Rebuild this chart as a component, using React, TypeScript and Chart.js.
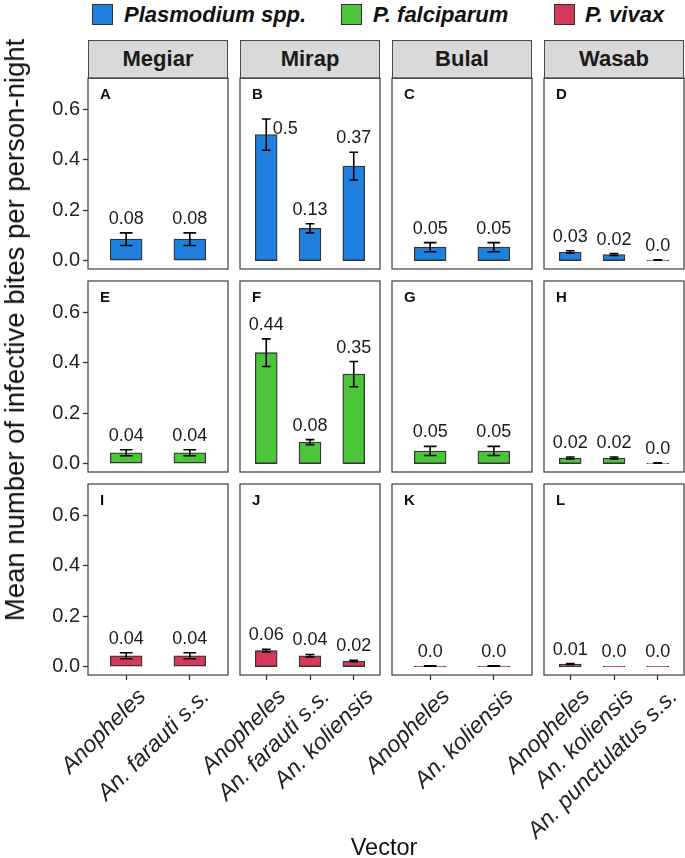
import React, { useEffect, useRef } from "react";
import { Chart, registerables } from "chart.js";

Chart.register(...registerables);

// ---------------- data ----------------
const villages = ["Megiar", "Mirap", "Bulal", "Wasab"];
const speciesNames = ["Plasmodium spp.", "P. falciparum", "P. vivax"];
const speciesColors = ["#1F80E0", "#4CC53B", "#D5395A"];
const panelLetters = [
  ["A", "B", "C", "D"],
  ["E", "F", "G", "H"],
  ["I", "J", "K", "L"],
];

const megiarVectors = ["Anopheles", "An. farauti s.s."];
const mirapVectors = ["Anopheles", "An. farauti s.s.", "An. koliensis"];
const bulalVectors = ["Anopheles", "An. koliensis"];
const wasabVectors = ["Anopheles", "An. koliensis", "An. punctulatus s.s."];
const vectorsByVillage = [megiarVectors, mirapVectors, bulalVectors, wasabVectors];

// Plasmodium spp. (per village)
const sppMean = [[0.085, 0.085], [0.5, 0.128, 0.375], [0.053, 0.053], [0.034, 0.024, 0.002]];
const sppErr = [[0.025, 0.025], [0.062, 0.018, 0.055], [0.018, 0.018], [0.005, 0.004, 0.001]];
const sppLabel = [["0.08", "0.08"], ["0.5", "0.13", "0.37"], ["0.05", "0.05"], ["0.03", "0.02", "0.0"]];

// P. falciparum
const pfMean = [[0.043, 0.043], [0.44, 0.085, 0.355], [0.05, 0.05], [0.022, 0.022, 0.002]];
const pfErr = [[0.012, 0.012], [0.055, 0.01, 0.05], [0.018, 0.018], [0.004, 0.004, 0.001]];
const pfLabel = [["0.04", "0.04"], ["0.44", "0.08", "0.35"], ["0.05", "0.05"], ["0.02", "0.02", "0.0"]];

// P. vivax
const pvMean = [[0.043, 0.043], [0.063, 0.043, 0.022], [0.002, 0.002], [0.01, 0.001, 0.001]];
const pvErr = [[0.012, 0.012], [0.005, 0.005, 0.003], [0.001, 0.001], [0.002, 0, 0]];
const pvLabel = [["0.04", "0.04"], ["0.06", "0.04", "0.02"], ["0.0", "0.0"], ["0.01", "0.0", "0.0"]];

const meansBySpecies = [sppMean, pfMean, pvMean];
const errsBySpecies = [sppErr, pfErr, pvErr];
const labelsBySpecies = [sppLabel, pfLabel, pvLabel];

const yTicks = [0, 0.2, 0.4, 0.6];
const yMin = -0.0335;
const yMax = 0.7245;

// ---------------- layout ----------------
const W = 685;
const H = 858;
const FONT = "'Liberation Sans', Arial, Helvetica, sans-serif";
const colLeft = [88, 240, 392, 544];
const panelW = 140;
const rowTop = [78, 281, 484];
const panelH = 191;
const stripTop = 39.5;
const stripH = 38.5;
const Y_AXIS_W = 60;
const X_AXIS_H = 170;
const BORDER = "#4a4a4a";

// special nudge for the label that sits beside its error bar in the reference
const labelNudges = [{ row: 0, col: 1, index: 0, dx: 19, dy: 24 }];

function makeBarExtras(row: number, col: number) {
  const means = meansBySpecies[row][col];
  const errs = errsBySpecies[row][col];
  const labels = labelsBySpecies[row][col];
  const vectors = vectorsByVillage[col];
  return {
    id: "barExtras",
    afterDatasetsDraw(chart: any) {
      const ctx = chart.ctx;
      const meta = chart.getDatasetMeta(0);
      const ys = chart.scales.y;
      ctx.save();
      meta.data.forEach((bar: any, i: number) => {
        const m = means[i];
        const e = errs[i];
        const x = bar.x;
        const cap = bar.width * 0.4;
        const yTop = ys.getPixelForValue(m + e);
        const yBot = ys.getPixelForValue(m - e);
        if (e > 0) {
          ctx.strokeStyle = "#000";
          ctx.lineWidth = 1.6;
          ctx.beginPath();
          ctx.moveTo(x, yTop);
          ctx.lineTo(x, yBot);
          ctx.moveTo(x - cap / 2, yTop);
          ctx.lineTo(x + cap / 2, yTop);
          ctx.moveTo(x - cap / 2, yBot);
          ctx.lineTo(x + cap / 2, yBot);
          ctx.stroke();
        }
        let lx = x;
        let ly = yTop - 9;
        labelNudges.forEach((n) => {
          if (n.row === row && n.col === col && n.index === i) {
            lx += n.dx;
            ly += n.dy;
          }
        });
        ctx.fillStyle = "#1a1a1a";
        ctx.font = `18px ${FONT}`;
        ctx.textAlign = "center";
        ctx.textBaseline = "alphabetic";
        ctx.fillText(labels[i], lx, ly);
      });
      ctx.restore();
    },
    afterDraw(chart: any) {
      const a = chart.chartArea;
      const ctx = chart.ctx;
      ctx.save();
      ctx.strokeStyle = BORDER;
      ctx.lineWidth = 1.3;
      ctx.strokeRect(a.left, a.top, a.right - a.left, a.bottom - a.top);
      // rotated category labels (ggplot style: top-right corner at the tick)
      if (row === 2) {
        const xs = chart.scales.x;
        ctx.fillStyle = "#222";
        ctx.font = `italic 23px ${FONT}`;
        ctx.textAlign = "right";
        ctx.textBaseline = "top";
        vectors.forEach((v, i) => {
          const px = xs.getPixelForValue(i + 1);
          ctx.save();
          ctx.translate(px + 8, a.bottom + 10);
          ctx.rotate(-Math.PI / 4);
          ctx.fillText(v, 0, 0);
          ctx.restore();
        });
      }
      ctx.restore();
    },
  };
}

function Panel({ row, col }: { row: number; col: number }) {
  const ref = useRef<HTMLCanvasElement>(null);
  useEffect(() => {
    const vectors = vectorsByVillage[col];
    const means = meansBySpecies[row][col];
    const n = vectors.length;
    const unitPx = panelW / (n + 0.2);
    const showY = col === 0;
    const showX = row === 2;
    const chart = new Chart(ref.current as HTMLCanvasElement, {
      type: "bar",
      data: {
        datasets: [
          {
            data: means.map((m, i) => ({ x: i + 1, y: m })),
            backgroundColor: speciesColors[row],
            borderColor: "#333333",
            borderWidth: 1.3,
            borderSkipped: false,
            barThickness: unitPx * 0.5,
          } as any,
        ],
      },
      options: {
        animation: false,
        responsive: false,
        devicePixelRatio: 1,
        events: [],
        layout: {
          padding: {
            left: colLeft[col] - (showY ? Y_AXIS_W : 0),
            top: rowTop[row],
            right: W - (colLeft[col] + panelW),
            bottom: H - (rowTop[row] + panelH) - (showX ? X_AXIS_H : 0),
          },
        },
        plugins: { legend: { display: false }, tooltip: { enabled: false } },
        scales: {
          x: {
            type: "linear",
            offset: false,
            bounds: "data",
            min: 0.4,
            max: n + 0.6,
            display: showX,
            afterBuildTicks: (s: any) => {
              s.ticks = vectors.map((_, i) => ({ value: i + 1 }));
            },
            afterFit: (s: any) => {
              s.height = showX ? X_AXIS_H : 0;
              s.paddingLeft = 0;
              s.paddingRight = 0;
            },
            grid: {
              display: true,
              offset: false,
              drawOnChartArea: false,
              drawTicks: true,
              tickLength: 5,
              tickColor: "#333",
              tickWidth: 1.3,
            },
            border: { display: false },
            ticks: {
              display: false,
              autoSkip: false,
              maxRotation: 0,
              callback: (v: any) => vectors[Math.round(Number(v)) - 1] ?? "",
            },
          } as any,
          y: {
            type: "linear",
            min: yMin,
            max: yMax,
            display: showY,
            afterBuildTicks: (s: any) => {
              s.ticks = yTicks.map((v) => ({ value: v }));
            },
            afterFit: (s: any) => {
              s.width = showY ? Y_AXIS_W : 0;
              s.paddingTop = 0;
              s.paddingBottom = 0;
            },
            grid: {
              display: true,
              drawOnChartArea: false,
              drawTicks: true,
              tickLength: 5,
              tickColor: "#333",
              tickWidth: 1.3,
            },
            border: { display: false },
            ticks: {
              padding: 3,
              color: "#222",
              font: { family: FONT, size: 20 },
              callback: (v: any) => Number(v).toFixed(1),
            },
          } as any,
        },
      },
      plugins: [makeBarExtras(row, col)],
    } as any);
    return () => chart.destroy();
  }, [row, col]);
  return (
    <canvas
      ref={ref}
      width={W}
      height={H}
      style={{ position: "absolute", left: 0, top: 0, width: W, height: H, pointerEvents: "none" }}
    />
  );
}

export default function App() {
  const legendItems = [
    { square: 92, text: 124 },
    { square: 341, text: 373 },
    { square: 554, text: 585 },
  ];
  const panels: { row: number; col: number }[] = [];
  for (let r = 0; r < 3; r++) for (let c = 0; c < 4; c++) panels.push({ row: r, col: c });
  return (
    <div
      style={{
        position: "absolute",
        left: 0,
        top: 0,
        width: W,
        height: H,
        overflow: "hidden",
        background: "#fff",
        fontFamily: FONT,
        color: "#1a1a1a",
      }}
    >
      {/* legend */}
      {speciesNames.map((s, i) => (
        <React.Fragment key={s}>
          <div
            style={{
              position: "absolute",
              left: legendItems[i].square,
              top: 4,
              width: 21,
              height: 21,
              boxSizing: "border-box",
              background: speciesColors[i],
              border: "1.3px solid #333",
            }}
          />
          <div
            style={{
              position: "absolute",
              left: legendItems[i].text,
              top: -2,
              height: 33,
              lineHeight: "33px",
              fontSize: 22,
              fontWeight: "bold",
              fontStyle: "italic",
              whiteSpace: "nowrap",
              color: "#111",
            }}
          >
            {s}
          </div>
        </React.Fragment>
      ))}

      {/* strips */}
      {villages.map((v, c) => (
        <div
          key={v}
          style={{
            position: "absolute",
            left: colLeft[c],
            top: stripTop,
            width: panelW,
            height: stripH + 0.5,
            boxSizing: "border-box",
            background: "#D9D9D9",
            border: `1.3px solid ${BORDER}`,
            textAlign: "center",
            lineHeight: `${stripH - 2}px`,
            fontSize: 22,
            fontWeight: "bold",
            color: "#1a1a1a",
          }}
        >
          {v}
        </div>
      ))}

      {panels.map((p) => (
        <Panel key={`${p.row}-${p.col}`} row={p.row} col={p.col} />
      ))}

      {/* panel letters */}
      {panels.map((p) => (
        <div
          key={`l-${p.row}-${p.col}`}
          style={{
            position: "absolute",
            left: colLeft[p.col] + 12,
            top: rowTop[p.row] + 8,
            fontSize: 15,
            fontWeight: "bold",
            lineHeight: "16px",
            color: "#111",
          }}
        >
          {panelLetters[p.row][p.col]}
        </div>
      ))}

      {/* y axis title */}
      <div
        style={{
          position: "absolute",
          left: 15,
          top: 330,
          transform: "translate(-50%, -50%) rotate(-90deg)",
          whiteSpace: "nowrap",
          fontSize: 27.5,
          color: "#111",
        }}
      >
        Mean number of infective bites per person-night
      </div>

      {/* x axis title */}
      <div
        style={{
          position: "absolute",
          left: 384,
          top: 835,
          transform: "translateX(-50%)",
          whiteSpace: "nowrap",
          fontSize: 23.5,
          lineHeight: "24px",
          color: "#111",
        }}
      >
        Vector
      </div>
    </div>
  );
}
